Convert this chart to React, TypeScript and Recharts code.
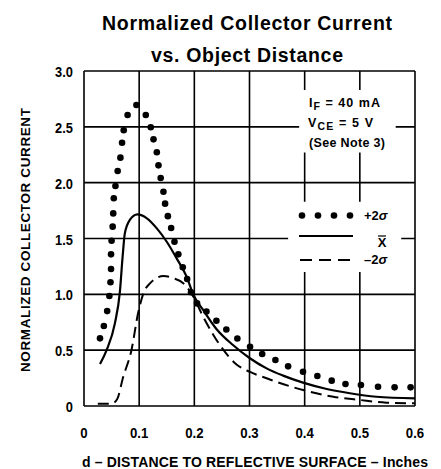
import React from "react";
import {
  CartesianGrid,
  ComposedChart,
  Line,
  ReferenceArea,
  Scatter,
  XAxis,
  YAxis,
} from "recharts";

const FONT = "'Liberation Sans', Arial, sans-serif";

const xTicks = [0, 0.1, 0.2, 0.3, 0.4, 0.5, 0.6];
const yTicks = [0, 0.5, 1.0, 1.5, 2.0, 2.5, 3.0];

// +2σ curve, drawn as dots
const plusX = [
  0.029, 0.036, 0.042, 0.046, 0.048, 0.049, 0.049, 0.05, 0.052, 0.053, 0.054, 0.057,
  0.061, 0.066, 0.069, 0.072, 0.079, 0.095, 0.112, 0.121, 0.126, 0.132, 0.135, 0.139,
  0.144, 0.147, 0.152, 0.158, 0.164, 0.171, 0.179, 0.187, 0.194, 0.205, 0.222, 0.24,
  0.258, 0.278, 0.301, 0.323, 0.347, 0.37, 0.397, 0.423, 0.449, 0.474, 0.502, 0.533,
  0.563, 0.592,
];
const plusY = [
  0.606, 0.716, 0.85, 0.985, 1.108, 1.227, 1.358, 1.48, 1.606, 1.725, 1.86, 1.97,
  2.104, 2.224, 2.358, 2.47, 2.606, 2.695, 2.606, 2.496, 2.388, 2.272, 2.155, 2.042,
  1.919, 1.812, 1.7, 1.594, 1.471, 1.358, 1.242, 1.137, 1.018, 0.919, 0.846, 0.764,
  0.685, 0.604, 0.531, 0.466, 0.412, 0.355, 0.307, 0.269, 0.227, 0.197, 0.188, 0.173,
  0.167, 0.167,
];

// mean curve
const meanX = [
  0.029, 0.041, 0.056, 0.065, 0.07, 0.074, 0.083, 0.097, 0.114, 0.132, 0.15, 0.168,
  0.186, 0.198, 0.216, 0.24, 0.27, 0.3, 0.331, 0.361, 0.397, 0.44, 0.482, 0.53, 0.6,
];
const meanY = [
  0.376, 0.5, 0.74, 1.02, 1.337, 1.546, 1.666, 1.716, 1.681, 1.591, 1.471, 1.322,
  1.158, 1.0, 0.86, 0.69, 0.546, 0.43, 0.337, 0.272, 0.209, 0.152, 0.114, 0.083, 0.068,
];

// -2σ curve
const minusX = [
  0.025, 0.05, 0.06, 0.071, 0.086, 0.098, 0.107, 0.12, 0.144, 0.162, 0.18, 0.198,
  0.216, 0.25, 0.277, 0.3, 0.331, 0.397, 0.452, 0.5, 0.548, 0.6,
];
const minusY = [
  0.02, 0.02, 0.06, 0.26, 0.5, 0.83, 1.0, 1.1, 1.164, 1.145, 1.1, 0.98,
  0.8, 0.52, 0.37, 0.307, 0.248, 0.143, 0.083, 0.054, 0.03, 0.024,
];

const toPoints = (xs: number[], ys: number[]) => xs.map((x, i) => ({ x, y: ys[i] }));

const plusData = toPoints(plusX, plusY);
const meanData = toPoints(meanX, meanY);
const minusData = toPoints(minusX, minusY);

const fmt = (v: number) => (v === 0 ? "0" : v.toFixed(1));

const Dot = (props: any) => <circle cx={props.cx} cy={props.cy} r={3.3} fill="#000" />;

const XTick = (props: any) => (
  <text
    transform={`translate(${props.x},${props.y + 32}) scale(0.88,1)`}
    textAnchor="middle"
    fontFamily={FONT}
    fontWeight={700}
    fontSize={15}
    fill="#000"
  >
    {fmt(props.payload.value)}
  </text>
);

const YTick = (props: any) => (
  <text
    transform={`translate(${props.x - 11},${props.y + 6}) scale(0.92,1)`}
    textAnchor="end"
    fontFamily={FONT}
    fontWeight={700}
    fontSize={14}
    fill="#000"
  >
    {fmt(props.payload.value)}
  </text>
);

export default function App() {
  return (
    <div style={{ position: "absolute", left: 0, top: 0, width: 441, height: 469, background: "#fff" }}>
      <ComposedChart
        width={441}
        height={469}
        margin={{ top: 71, right: 26, bottom: 23, left: 44 }}
      >
        <CartesianGrid stroke="#000" strokeWidth={1.6} fill="none" />
        <XAxis
          dataKey="x"
          type="number"
          domain={[0, 0.6]}
          ticks={xTicks}
          height={40}
          axisLine={false}
          tickLine={false}
          tickSize={0}
          tickMargin={0}
          tick={XTick}
        />
        <YAxis
          dataKey="y"
          type="number"
          domain={[0, 3]}
          ticks={yTicks}
          width={40}
          axisLine={false}
          tickLine={false}
          tickSize={0}
          tickMargin={0}
          tick={YTick}
        />
        <ReferenceArea x1={0.39} x2={0.565} y1={2.27} y2={2.83} fill="#fff" fillOpacity={1} stroke="none" />
        <ReferenceArea x1={0.37} x2={0.575} y1={1.2} y2={1.83} fill="#fff" fillOpacity={1} stroke="none" />
        <Line
          data={minusData}
          dataKey="y"
          type="monotone"
          stroke="#000"
          strokeWidth={2}
          strokeDasharray="11 6"
          dot={false}
          isAnimationActive={false}
        />
        <Line
          data={meanData}
          dataKey="y"
          type="monotone"
          stroke="#000"
          strokeWidth={2.2}
          dot={false}
          isAnimationActive={false}
        />
        <Scatter data={plusData} dataKey="y" shape={Dot} isAnimationActive={false} />
      </ComposedChart>

      <svg
        width={441}
        height={469}
        style={{ position: "absolute", left: 0, top: 0, pointerEvents: "none" }}
        fontFamily={FONT}
        fontWeight={700}
      >
        <text x={247} y={30} textAnchor="middle" fontSize={19.5} textLength={290}>
          Normalized Collector Current
        </text>
        <text x={247} y={62} textAnchor="middle" fontSize={19.5} textLength={192}>
          vs. Object Distance
        </text>

        <text
          transform="translate(30,240) rotate(-90)"
          textAnchor="middle"
          fontSize={13.5}
          textLength={264}
        >
          NORMALIZED COLLECTOR CURRENT
        </text>
        <text x={255} y={467} textAnchor="middle" fontSize={14} textLength={346}>
          d – DISTANCE TO REFLECTIVE SURFACE – Inches
        </text>

        <text x={309} y={107} fontSize={12.5} textLength={71}>
          I<tspan dy={3} fontSize={10.5}>F</tspan>
          <tspan dy={-3}> = 40 mA</tspan>
        </text>
        <text x={308} y={127} fontSize={12.5} textLength={65}>
          V<tspan dy={3} fontSize={10.5}>CE</tspan>
          <tspan dy={-3}> = 5 V</tspan>
        </text>
        <text x={309} y={147} fontSize={12.5} textLength={76}>
          (See Note 3)
        </text>

        {[302, 318, 334, 350].map((cx) => (
          <circle key={cx} cx={cx} cy={215.5} r={3.3} fill="#000" />
        ))}
        <text x={364} y={220} fontSize={13}>
          +2<tspan fontStyle="italic">σ</tspan>
        </text>
        <line x1={299} x2={353} y1={236} y2={236} stroke="#000" strokeWidth={2.2} />
        <line x1={378} x2={386} y1={236} y2={236} stroke="#000" strokeWidth={1.2} />
        <text x={382} y={247} fontSize={13} textAnchor="middle">
          X
        </text>
        <line x1={300} x2={352} y1={260} y2={260} stroke="#000" strokeWidth={2} strokeDasharray="12 7" />
        <text x={364} y={264} fontSize={13}>
          –2<tspan fontStyle="italic">σ</tspan>
        </text>
      </svg>
    </div>
  );
}
